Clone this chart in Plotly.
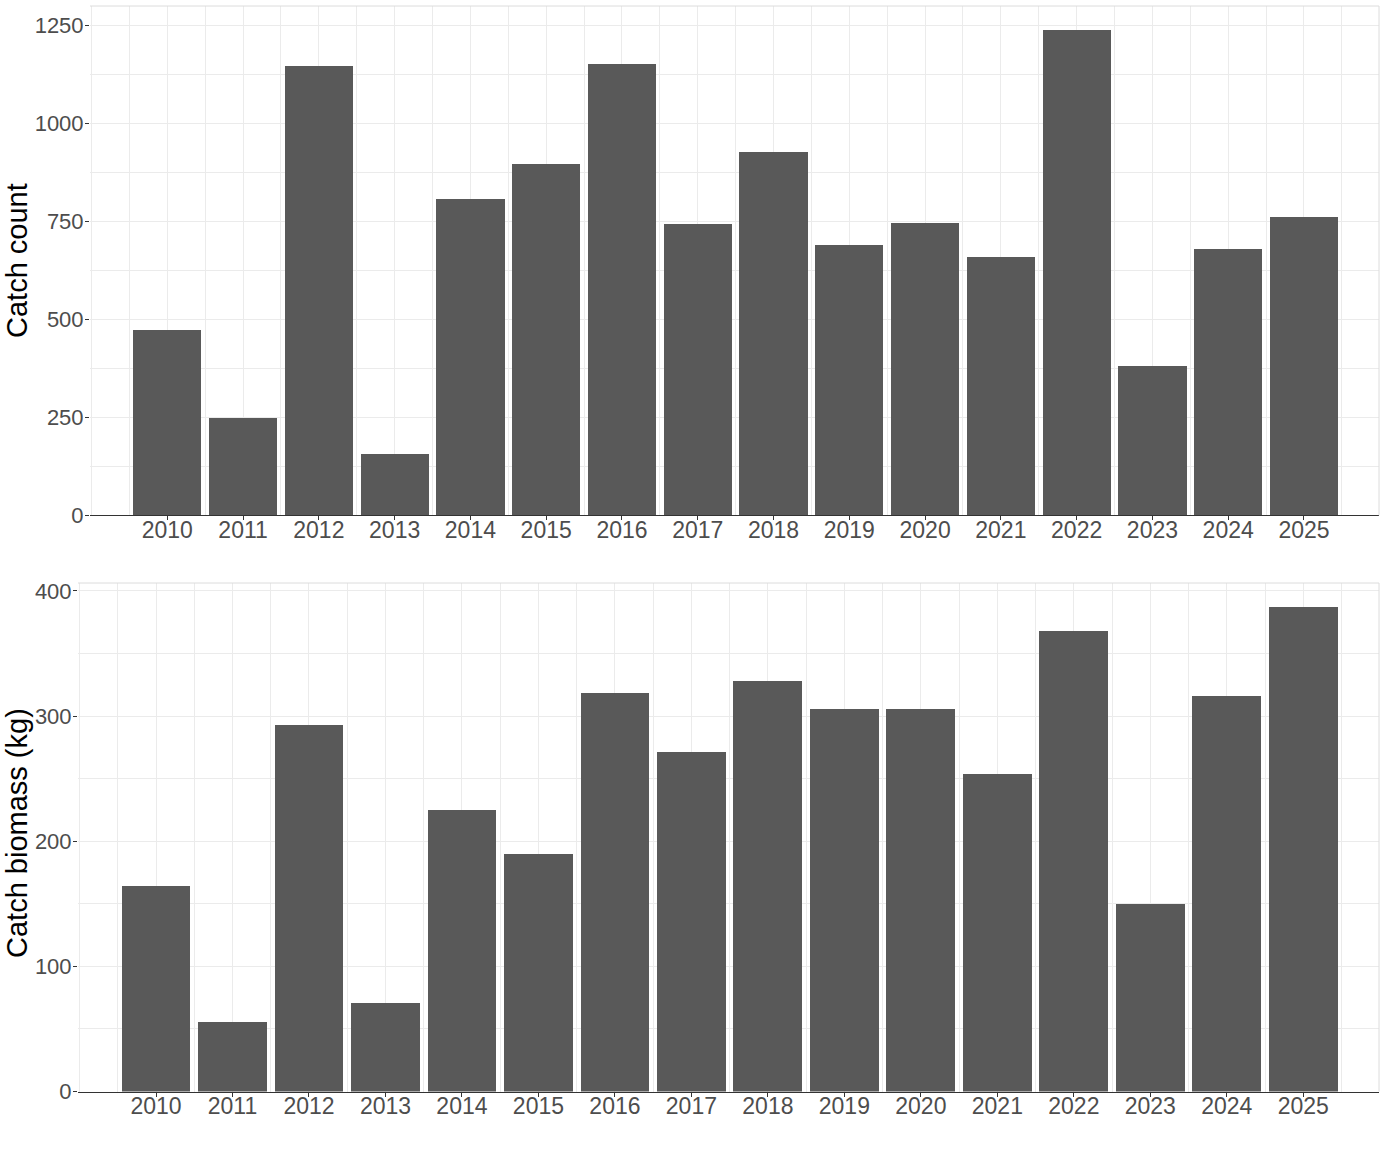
import plotly.graph_objects as go

years = list(range(2010, 2026))
year_labels = [str(y) for y in years]
catch_count = [473, 248, 1147, 156, 807, 896, 1152, 743, 927, 690, 746, 659, 1238, 381, 679, 761]
catch_biomass = [164, 55.5, 292.7, 70.7, 224.8, 189.7, 318.3, 271.2, 327.9, 305.5, 305.5, 253.6, 367.8, 149.8, 315.7, 387]
count_ticks = [0, 250, 500, 750, 1000, 1250]
biomass_ticks = [0, 100, 200, 300, 400]

W, H = 1386, 1154
FONT = "Arial, Liberation Sans, sans-serif"
BAR = "#595959"
GRID = "#ebebeb"
TICKC = "#4d4d4d"

fig = go.Figure()
fig.add_trace(go.Bar(x=years, y=catch_count, width=0.9, marker=dict(color=BAR, line=dict(width=0)),
                     xaxis="x", yaxis="y", showlegend=False))
fig.add_trace(go.Bar(x=years, y=catch_biomass, width=0.9, marker=dict(color=BAR, line=dict(width=0)),
                     xaxis="x2", yaxis="y2", showlegend=False))

def px_x(p):
    return p / W

def px_y(p):
    return 1 - p / H

xr = [2008.98, 2025.99]
common_x = dict(
    range=xr, tickmode="array", tickvals=years, ticktext=year_labels,
    showline=True, linecolor="#333333", linewidth=1,
    ticks="outside", ticklen=4, tickcolor="#333333", tickwidth=1,
    tickfont=dict(family=FONT, size=23, color=TICKC),
    ticklabelstandoff=-10,
    showgrid=True, gridcolor=GRID, gridwidth=1, zeroline=False, automargin=False,
    minor=dict(dtick=0.5, tick0=2009.5, showgrid=True, gridcolor=GRID, gridwidth=1, ticks=""),
)
common_y = dict(
    showline=False, ticks="outside", ticklen=4, tickcolor="#333333", tickwidth=1,
    tickfont=dict(family=FONT, size=22, color=TICKC),
    ticklabelstandoff=-3,
    showgrid=True, gridcolor=GRID, gridwidth=1, zeroline=False, automargin=False,
)

fig.update_layout(
    width=W, height=H,
    margin=dict(l=0, r=0, t=0, b=0, autoexpand=False),
    paper_bgcolor="white", plot_bgcolor="white",
    bargap=0,
    xaxis=dict(domain=[px_x(90), px_x(1379)], anchor="y", **common_x),
    yaxis=dict(domain=[px_y(515.3), px_y(6)], anchor="x",
               range=[0, max(catch_count) * 1.05], tickmode="array", tickvals=count_ticks,
               minor=dict(dtick=125, showgrid=True, gridcolor=GRID, gridwidth=1, ticks=""),
               **common_y),
    xaxis2=dict(domain=[px_x(78), px_x(1379)], anchor="y2", **common_x),
    yaxis2=dict(domain=[px_y(1091.5), px_y(583)], anchor="x2",
                range=[0, max(catch_biomass) * 1.05], tickmode="array", tickvals=biomass_ticks,
                minor=dict(dtick=50, showgrid=True, gridcolor=GRID, gridwidth=1, ticks=""),
                **common_y),
    annotations=[
        dict(text="Catch count", xref="paper", yref="paper", x=px_x(17), y=px_y(261),
             textangle=-90, showarrow=False, xanchor="center", yanchor="middle",
             font=dict(family=FONT, size=29, color="black")),
        dict(text="Catch biomass (kg)", xref="paper", yref="paper", x=px_x(17), y=px_y(833),
             textangle=-90, showarrow=False, xanchor="center", yanchor="middle",
             font=dict(family=FONT, size=29, color="black")),
    ],
    shapes=[
        dict(type="line", xref="x domain", yref="y domain", x0=0, x1=1, y0=1, y1=1,
             line=dict(color="#dcdcdc", width=1)),
        dict(type="line", xref="x domain", yref="y domain", x0=1, x1=1, y0=0, y1=1,
             line=dict(color="#dcdcdc", width=1)),
        dict(type="line", xref="x2 domain", yref="y2 domain", x0=0, x1=1, y0=1, y1=1,
             line=dict(color="#dcdcdc", width=1)),
        dict(type="line", xref="x2 domain", yref="y2 domain", x0=1, x1=1, y0=0, y1=1,
             line=dict(color="#dcdcdc", width=1)),
    ],
)

fig.write_html("out.html")
